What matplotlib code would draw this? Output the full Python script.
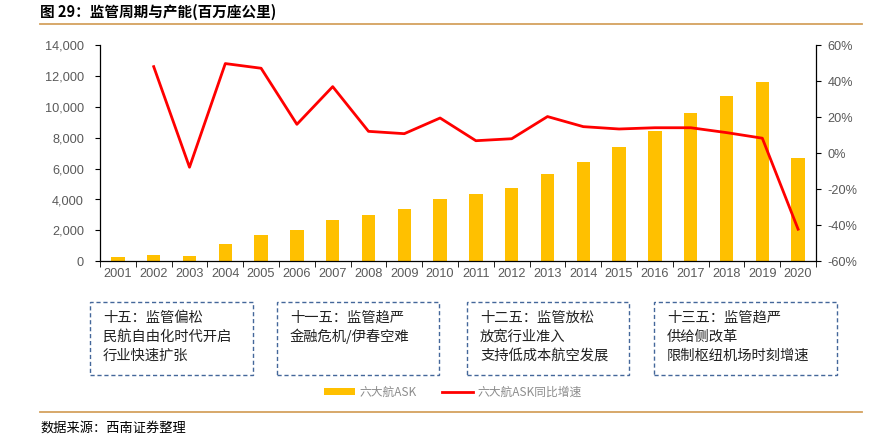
import matplotlib
matplotlib.use("Agg")
import matplotlib.pyplot as plt
from matplotlib.patches import Rectangle
from matplotlib.lines import Line2D
from matplotlib.ticker import FuncFormatter, FixedLocator
import numpy as np

plt.rcParams['font.family'] = ['Noto Sans CJK SC', 'DejaVu Sans']

years = [str(y) for y in range(2001, 2021)]
ask = [280, 410, 340, 1120, 1680, 2000, 2690, 3010, 3380, 4030,
       4335, 4740, 5670, 6445, 7395, 8410, 9595, 10675, 11600, 6700]
growth = [np.nan, 48.0, -7.8, 49.7, 47.1, 16.0, 36.9, 12.1, 10.8, 19.5,
          6.9, 8.0, 20.3, 14.7, 13.4, 14.1, 14.1, 11.4, 8.3, -42.2]
left_ticks = list(range(0, 14001, 2000))
right_ticks = list(range(-60, 61, 20))
title = "图 29：监管周期与产能(百万座公里)"
source = "数据来源：西南证券整理"
legend_labels = ["六大航ASK", "六大航ASK同比增速"]
box_texts = [
    ["十五：监管偏松", "民航自由化时代开启", "行业快速扩张"],
    ["十一五：监管趋严", "金融危机/伊春空难"],
    ["十二五：监管放松", "放宽行业准入", "支持低成本航空发展"],
    ["十三五：监管趋严", "供给侧改革", "限制枢纽机场时刻增速"],
]

W, H = 877, 440
fig = plt.figure(figsize=(W / 100, H / 100), dpi=100)

def fx(px):
    return px / W

def fy(py):
    return 1 - py / H

num_font = dict(family='Liberation Sans', size=9.2)

ax_l, ax_r, ax_t, ax_b = 100, 816, 45, 261.3
ax = fig.add_axes([fx(ax_l), fy(ax_b), fx(ax_r - ax_l), (ax_b - ax_t) / H])
x = np.arange(len(years))
bar_color = "#FFC000"
line_color = "#FF0000"
tick_color = "#595959"

ax.bar(x, ask, width=0.37, color=bar_color, zorder=2)
ax.set_xlim(-0.5, len(years) - 0.5)
ax.set_ylim(0, 14000)
ax.set_yticks(left_ticks)
ax.yaxis.set_major_formatter(FuncFormatter(lambda v, p: f"{int(v):,}"))
ax.set_xticks(x)
ax.set_xticklabels(years)
ax.xaxis.set_minor_locator(FixedLocator(np.arange(-0.5, len(years), 1.0)))
ax.tick_params(axis='x', which='major', length=0, pad=5, labelcolor=tick_color)
ax.tick_params(axis='x', which='minor', length=4, direction='out', color='black')
ax.tick_params(axis='y', length=3.5, direction='out', labelcolor=tick_color, pad=8)
for lab in ax.get_xticklabels() + ax.get_yticklabels():
    lab.set_fontproperties(matplotlib.font_manager.FontProperties(**num_font))
for s in ['top', 'right']:
    ax.spines[s].set_visible(False)
ax.spines['left'].set_linewidth(0.9)
ax.spines['bottom'].set_linewidth(0.9)

ax2 = ax.twinx()
ax2.plot(x, growth, color=line_color, lw=2.0, zorder=3)
ax2.set_ylim(-60, 60)
ax2.set_yticks(right_ticks)
ax2.yaxis.set_major_formatter(FuncFormatter(lambda v, p: f"{int(v)}%"))
ax2.tick_params(axis='y', length=3.5, direction='out', labelcolor=tick_color, pad=5)
for lab in ax2.get_yticklabels():
    lab.set_fontproperties(matplotlib.font_manager.FontProperties(**num_font))
for s in ['top', 'left', 'bottom']:
    ax2.spines[s].set_visible(False)
ax2.spines['right'].set_linewidth(0.9)

# title and rules
fig.text(fx(40), fy(12), title, fontsize=10.5, fontweight='bold', va='center', ha='left', color='black')
rule_color = "#D4A15E"
fig.add_artist(Line2D([fx(40), fx(862)], [fy(24), fy(24)], color=rule_color, lw=1.3))
fig.add_artist(Line2D([fx(40), fx(862)], [fy(411.5), fy(411.5)], color=rule_color, lw=1.3))
fig.text(fx(40), fy(428), source, fontsize=9.5, style='italic', va='center', ha='left', color='black')

# dashed boxes
boxes = [(90, 253), (277, 439), (467, 629), (654, 837)]
box_top, box_bot = 302, 375
box_color = "#44679A"
for (l, r), lines in zip(boxes, box_texts):
    fig.add_artist(Rectangle((fx(l), fy(box_bot)), fx(r - l), (box_bot - box_top) / H,
                             fill=False, ls=(0, (3, 2)), lw=1.0, ec=box_color))
    for i, t in enumerate(lines):
        fig.text(fx(l + 13), fy(318 + i * 18.7), t, fontsize=10.3, va='center', ha='left', color='#222222')

# legend
fig.add_artist(Rectangle((fx(324), fy(395)), fx(31), 7 / H, color=bar_color, lw=0))
fig.text(fx(360), fy(392), legend_labels[0], fontsize=8.5, va='center', ha='left', color='#8C8C8C')
fig.add_artist(Line2D([fx(442), fx(473)], [fy(392), fy(392)], color=line_color, lw=2.0))
fig.text(fx(478), fy(392), legend_labels[1], fontsize=8.5, va='center', ha='left', color='#8C8C8C')

fig.savefig("out.png", dpi=100)
